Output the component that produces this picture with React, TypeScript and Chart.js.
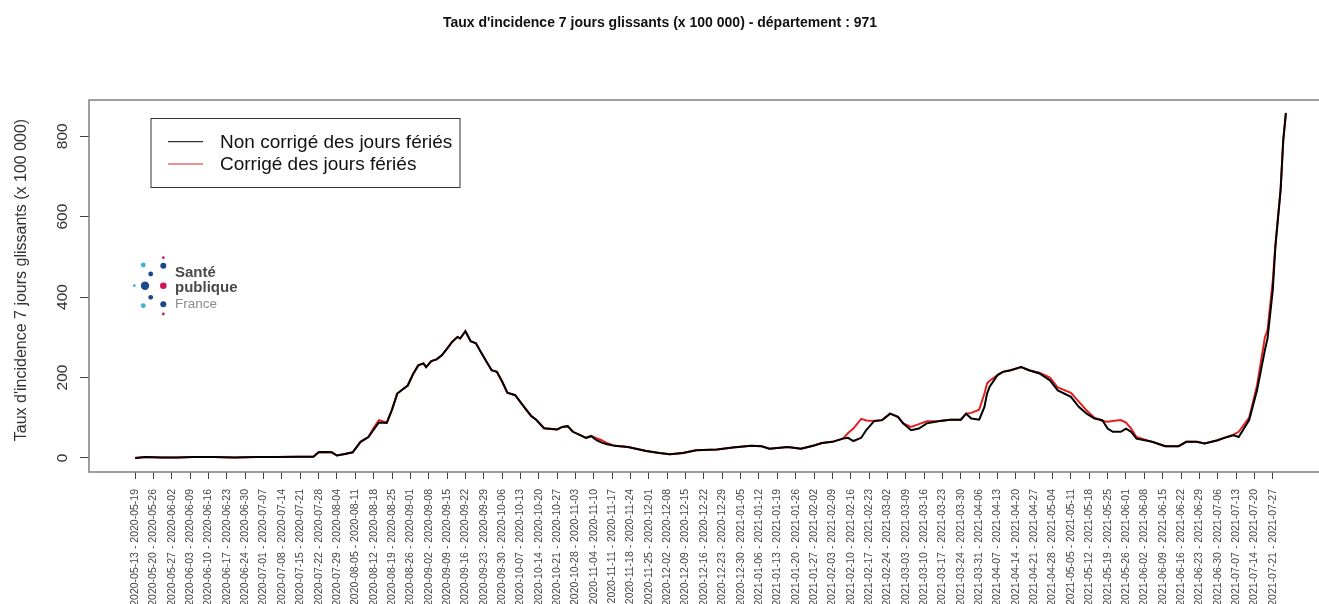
import React, { useEffect, useRef } from "react";
import { Chart, registerables } from "chart.js";

Chart.register(...registerables);

const TITRE = "Taux d'incidence 7 jours glissants (x 100 000) - département : 971";
const TITRE_Y = "Taux d'incidence 7 jours glissants (x 100 000)";
const LEGENDE = ["Non corrigé des jours fériés", "Corrigé des jours fériés"];
const COULEURS = ["#000000", "#e32020"];
const FONT = '"Liberation Sans", Arial, Helvetica, sans-serif';

const SEMAINES = [
  "2020-05-13 - 2020-05-19", "2020-05-20 - 2020-05-26", "2020-05-27 - 2020-06-02", "2020-06-03 - 2020-06-09",
  "2020-06-10 - 2020-06-16", "2020-06-17 - 2020-06-23", "2020-06-24 - 2020-06-30", "2020-07-01 - 2020-07-07",
  "2020-07-08 - 2020-07-14", "2020-07-15 - 2020-07-21", "2020-07-22 - 2020-07-28", "2020-07-29 - 2020-08-04",
  "2020-08-05 - 2020-08-11", "2020-08-12 - 2020-08-18", "2020-08-19 - 2020-08-25", "2020-08-26 - 2020-09-01",
  "2020-09-02 - 2020-09-08", "2020-09-09 - 2020-09-15", "2020-09-16 - 2020-09-22", "2020-09-23 - 2020-09-29",
  "2020-09-30 - 2020-10-06", "2020-10-07 - 2020-10-13", "2020-10-14 - 2020-10-20", "2020-10-21 - 2020-10-27",
  "2020-10-28 - 2020-11-03", "2020-11-04 - 2020-11-10", "2020-11-11 - 2020-11-17", "2020-11-18 - 2020-11-24",
  "2020-11-25 - 2020-12-01", "2020-12-02 - 2020-12-08", "2020-12-09 - 2020-12-15", "2020-12-16 - 2020-12-22",
  "2020-12-23 - 2020-12-29", "2020-12-30 - 2021-01-05", "2021-01-06 - 2021-01-12", "2021-01-13 - 2021-01-19",
  "2021-01-20 - 2021-01-26", "2021-01-27 - 2021-02-02", "2021-02-03 - 2021-02-09", "2021-02-10 - 2021-02-16",
  "2021-02-17 - 2021-02-23", "2021-02-24 - 2021-03-02", "2021-03-03 - 2021-03-09", "2021-03-10 - 2021-03-16",
  "2021-03-17 - 2021-03-23", "2021-03-24 - 2021-03-30", "2021-03-31 - 2021-04-06", "2021-04-07 - 2021-04-13",
  "2021-04-14 - 2021-04-20", "2021-04-21 - 2021-04-27", "2021-04-28 - 2021-05-04", "2021-05-05 - 2021-05-11",
  "2021-05-12 - 2021-05-18", "2021-05-19 - 2021-05-25", "2021-05-26 - 2021-06-01", "2021-06-02 - 2021-06-08",
  "2021-06-09 - 2021-06-15", "2021-06-16 - 2021-06-22", "2021-06-23 - 2021-06-29", "2021-06-30 - 2021-07-06",
  "2021-07-07 - 2021-07-13", "2021-07-14 - 2021-07-20", "2021-07-21 - 2021-07-27",
];

const Y_TICKS = [0, 200, 400, 600, 800];

// day offsets from 2020-05-19
const jours = [
  0, 4, 10, 16, 22, 30, 38, 46, 54, 62, 68, 70, 72, 75, 77, 80, 83, 86, 89, 91,
  93, 96, 98, 100, 102, 104, 106, 108, 110, 111, 113, 115, 117, 119, 121, 123, 124, 126, 128, 130,
  132, 134, 136, 138, 140, 142, 145, 148, 151, 153, 156, 161, 163, 165, 167, 170, 172, 174, 176, 178,
  180, 183, 188, 195, 200, 204, 209, 214, 222, 228, 235, 239, 242, 249, 254, 259, 262, 266, 270, 272,
  274, 277, 279, 282, 285, 288, 291, 293, 296, 299, 302, 307, 311, 315, 317, 319, 322, 324, 325, 326,
  329, 331, 334, 338, 341, 345, 349, 352, 357, 360, 363, 366, 369, 371, 373, 376, 378, 380, 382, 388,
  393, 398, 401, 405, 408, 413, 416, 419, 421, 425, 428, 431, 432, 434, 435, 437, 438, 439,
];

const nonCorrige = [
  0, 2, 1, 1, 2, 2, 1, 2, 2, 3, 3, 14, 15, 14, 6, 10, 14, 40, 52, 70,
  88, 87, 120, 160, 170, 180, 208, 230, 235, 226, 241, 245, 255, 272, 289, 301, 297, 315, 290, 285,
  262, 240, 218, 214, 190, 162, 156, 130, 105, 95, 74, 71, 77, 79, 65, 56, 50, 54, 44, 38,
  34, 30, 27, 17, 12, 9, 12, 19, 21, 26, 30, 29, 23, 27, 23, 31, 37, 40, 48, 50,
  42, 50, 70, 92, 94, 110, 102, 86, 69, 73, 86, 92, 95, 95, 110, 98, 95, 127, 160, 177,
  206, 214, 218, 226, 218, 210, 193, 168, 152, 127, 110, 98, 94, 73, 65, 65, 73, 65, 48, 40,
  29, 29, 40, 40, 36, 44, 51, 56, 52, 94, 168, 268, 297, 417, 525, 666, 790, 858,
];

const corrige = [
  0, 2, 1, 1, 2, 2, 1, 2, 2, 3, 3, 14, 15, 14, 6, 10, 14, 40, 52, 75,
  94, 88, 120, 160, 170, 180, 208, 230, 235, 226, 241, 245, 255, 272, 289, 301, 297, 315, 290, 285,
  262, 240, 218, 214, 190, 162, 156, 130, 105, 95, 74, 71, 77, 79, 65, 56, 50, 55, 49, 44,
  37, 30, 27, 17, 12, 9, 12, 19, 21, 26, 30, 29, 23, 27, 23, 31, 37, 40, 48, 62,
  73, 97, 93, 92, 94, 110, 102, 86, 77, 84, 91, 92, 95, 95, 110, 112, 120, 160, 185, 192,
  206, 214, 218, 226, 218, 212, 200, 175, 162, 140, 118, 100, 92, 90, 92, 94, 88, 73, 52, 40,
  29, 29, 40, 40, 36, 44, 51, 58, 65, 100, 180, 300, 318, 440, 530, 670, 790, 855,
];

const LOGO_DOTS: [number, number, number, string][] = [
  [163.3, 257.7, 1.4, "#c8175d"],
  [143.3, 265, 2.4, "#3fb3d2"],
  [163.3, 265.7, 3, "#1b4a8c"],
  [150.7, 274, 2.4, "#1b4a8c"],
  [134.3, 285.7, 1.4, "#3fb3d2"],
  [145, 285.7, 4.2, "#1b4a8c"],
  [163.3, 285.7, 3.3, "#d0145a"],
  [150.7, 297.3, 2.4, "#1b4a8c"],
  [143.3, 305.7, 2.4, "#3fb3d2"],
  [163.3, 304.3, 3, "#1b4a8c"],
  [163.3, 314, 1.4, "#c8175d"],
];

const decor = {
  id: "decor",
  afterDraw(chart: any) {
    const { ctx, chartArea: a, scales } = chart;
    ctx.save();
    // plot frame
    ctx.strokeStyle = "#7f7f7f";
    ctx.lineWidth = 1.5;
    ctx.strokeRect(a.left, a.top, a.right - a.left, a.bottom - a.top);

    // title
    ctx.fillStyle = "#111";
    ctx.font = `bold 14px ${FONT}`;
    ctx.textAlign = "center";
    ctx.textBaseline = "middle";
    ctx.fillText(TITRE, 660, 23);

    // y tick labels (rotated, R style)
    ctx.fillStyle = "#333";
    ctx.font = `15.5px ${FONT}`;
    for (const v of Y_TICKS) {
      const y = scales.y.getPixelForValue(v);
      ctx.save();
      ctx.translate(63, y);
      ctx.rotate(-Math.PI / 2);
      ctx.fillText(String(v), 0, 0);
      ctx.restore();
    }
    // y title
    ctx.font = `16px ${FONT}`;
    ctx.save();
    ctx.translate(22, 280);
    ctx.rotate(-Math.PI / 2);
    ctx.fillText(TITRE_Y, 0, 0);
    ctx.restore();

    // legend
    const lx = 151, ly = 118.5, lw = 309, lh = 69;
    ctx.fillStyle = "#fff";
    ctx.fillRect(lx, ly, lw, lh);
    ctx.strokeStyle = "#333";
    ctx.lineWidth = 1;
    ctx.strokeRect(lx, ly, lw, lh);
    ctx.font = `19px ${FONT}`;
    ctx.textAlign = "left";
    const rows = [141.7, 164];
    chart.data.datasets.forEach((ds: any, i: number) => {
      ctx.strokeStyle = ds.borderColor;
      ctx.lineWidth = 1;
      ctx.beginPath();
      ctx.moveTo(168, rows[i]);
      ctx.lineTo(203, rows[i]);
      ctx.stroke();
      ctx.fillStyle = "#111";
      ctx.fillText(ds.label, 220, rows[i] + 1);
    });

    // logo
    for (const [x, y, r, c] of LOGO_DOTS) {
      ctx.fillStyle = c;
      ctx.beginPath();
      ctx.arc(x, y, r, 0, Math.PI * 2);
      ctx.fill();
    }
    ctx.textBaseline = "alphabetic";
    ctx.fillStyle = "#4a4a4a";
    ctx.font = `bold 15px ${FONT}`;
    ctx.fillText("Santé", 175, 277);
    ctx.fillText("publique", 175, 292);
    ctx.fillStyle = "#8c8c8c";
    ctx.font = `13.5px ${FONT}`;
    ctx.fillText("France", 175, 308);
    ctx.restore();
  },
};

export default function App() {
  const ref = useRef<HTMLCanvasElement | null>(null);
  useEffect(() => {
    document.body.style.margin = "0";
    document.body.style.overflow = "hidden";
    const canvas = ref.current!;
    const chart = new Chart(canvas, {
      type: "line",
      data: {
        datasets: [
          {
            label: LEGENDE[0],
            data: jours.map((x, i) => ({ x, y: nonCorrige[i] })),
            borderColor: COULEURS[0],
            borderWidth: 2,
            pointRadius: 0,
            tension: 0,
            fill: false,
          },
          {
            label: LEGENDE[1],
            data: jours.map((x, i) => ({ x, y: corrige[i] })),
            borderColor: COULEURS[1],
            borderWidth: 2,
            pointRadius: 0,
            tension: 0,
            fill: false,
          },
        ],
      },
      options: {
        responsive: false,
        maintainAspectRatio: false,
        animation: false,
        events: [],
        layout: { padding: { top: 100, right: 13, left: 0, bottom: 0 } },
        plugins: {
          legend: { display: false },
          title: { display: false },
          tooltip: { enabled: false },
        },
        scales: {
          x: {
            type: "linear",
            min: -17.6,
            max: 456.6,
            afterBuildTicks: (s: any) => {
              s.ticks = SEMAINES.map((_, i) => ({ value: i * 7 }));
            },
            afterFit: (s: any) => {
              s.height = 132;
            },
            grid: { drawOnChartArea: false, drawTicks: true, tickLength: 7, color: "#444", lineWidth: 1 },
            border: { display: false },
            ticks: {
              autoSkip: false,
              minRotation: 90,
              maxRotation: 90,
              padding: 10,
              color: "#444",
              font: { family: FONT, size: 10.5 },
              callback: (_v: any, i: number) => SEMAINES[i],
            },
          },
          y: {
            type: "linear",
            min: -35,
            max: 890,
            afterBuildTicks: (s: any) => {
              s.ticks = Y_TICKS.map((v) => ({ value: v }));
            },
            afterFit: (s: any) => {
              s.width = 89;
            },
            grid: { drawOnChartArea: false, drawTicks: true, tickLength: 9, color: "#444", lineWidth: 1 },
            border: { display: false },
            ticks: { display: false },
          },
        },
      },
      plugins: [decor],
    } as any);
    return () => chart.destroy();
  }, []);
  return (
    <div style={{ width: 1319, height: 604, overflow: "hidden", position: "relative", background: "#fff" }}>
      <canvas ref={ref} width={1345} height={604} style={{ width: 1345, height: 604, display: "block" }} />
    </div>
  );
}
